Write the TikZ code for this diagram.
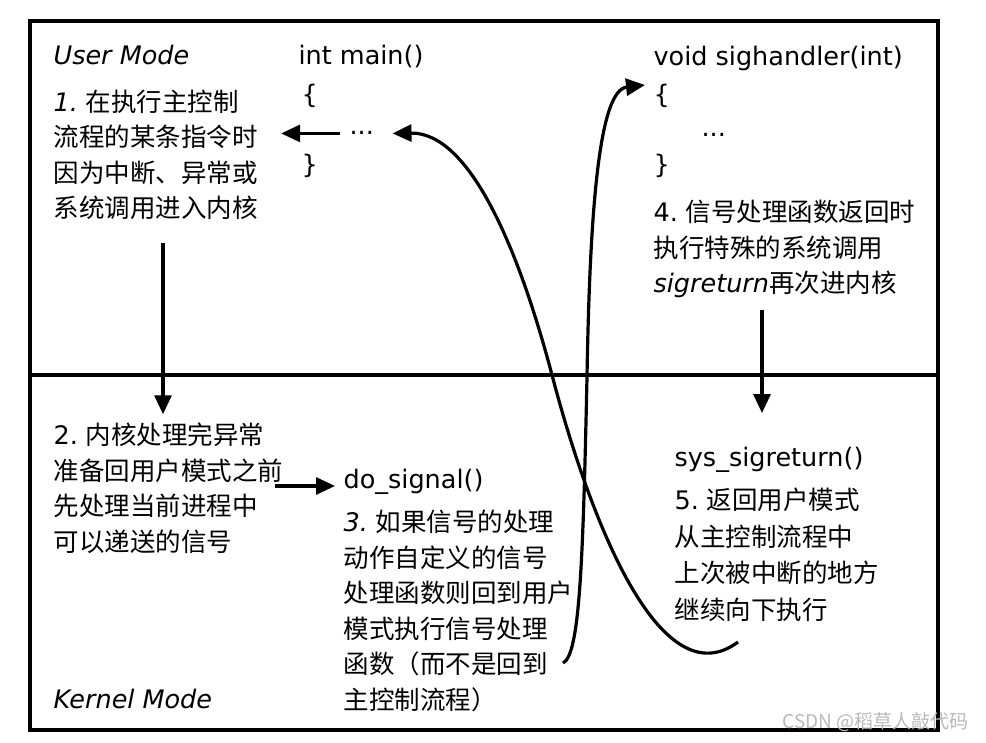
\documentclass[tikz,border=0pt]{standalone}
\usepackage{fontspec}
\setmainfont{DejaVu Sans}
\newfontfamily\cjk{Noto Sans CJK SC}
\usetikzlibrary{arrows.meta}
\begin{document}
\begin{tikzpicture}[x=1pt, y=-1pt, line width=3.2pt, >={Triangle[length=19pt,width=17pt]},
  code node/.style={anchor=base west,inner sep=0pt,font=\fontsize{25.5}{30}\selectfont},
  mode node/.style={code node,font=\fontsize{25.5}{30}\selectfont\itshape},
  step node/.style={anchor=base west,inner sep=0pt,align=left,font=\fontsize{25.5}{35.5}\selectfont\cjk}]
\useasboundingbox (0,0) rectangle (986,743);
\draw [line width=4pt] (30,21) rectangle (938,730);
\draw (30,375) -- (938,375);
\begin{scope}
% user mode
\node [mode node](um) at (52,65) {User Mode};
\node [code node](mhead) at (297,65) {int main()};
\node [code node](mlb) at (300,104) {\{};
\node [code node](mdots) at (348,135) {...};
\node [code node](mrb) at (300,174) {\}};
\node [step node](s1) at (52,218) {{\rmfamily\itshape 1.} 在执行主控制\\流程的某条指令时\\因为中断、异常或\\系统调用进入内核};
\node [code node](shead) at (652,66) {void sighandler(int)};
\node [code node](slb) at (652,104) {\{};
\node [code node](sdots) at (700,137) {...};
\node [code node](srb) at (652,174) {\}};
\node [step node](s4) at (652,293) {{\rmfamily 4.} 信号处理函数返回时\\执行特殊的系统调用\\{\rmfamily\itshape sigreturn}再次进内核};
% kernel mode
\node [step node](s2) at (52,551) {{\rmfamily 2.} 内核处理完异常\\准备回用户模式之前\\先处理当前进程中\\可以递送的信号};
\node [code node](sig) at (342,488) {do\_signal()};
\node [step node](s3) at (342,709) {{\rmfamily\itshape 3.} 如果信号的处理\\动作自定义的信号\\处理函数则回到用户\\模式执行信号处理\\函数（而不是回到\\主控制流程）};
\node [code node](ret) at (673,466) {sys\_sigreturn()};
\node [step node,font=\fontsize{25.5}{36.5}\selectfont\cjk](s5) at (673,619) {{\rmfamily 5.} 返回用户模式\\从主控制流程中\\上次被中断的地方\\继续向下执行};
\node [mode node](km) at (52,708) {Kernel Mode};
\node [anchor=east,inner sep=0pt,text=gray!55,font=\fontsize{19}{19}\selectfont\cjk](wm) at (970,722) {CSDN @稻草人敲代码};
\end{scope}
\coordinate (k1) at (163,243);
\coordinate (k2) at (275,486);
\coordinate (k3) at (762,310);
\coordinate (hA) at (738,642);
\coordinate (hB) at (563,663);
\draw [->, shorten <=8pt, shorten >=22pt] (mdots.west) -- (s1.east |- mdots.west);
\draw [->] (k1) -- ([yshift=7pt]k1 |- s2.north);
\draw [->, shorten >=7pt] (k2) -- (k2 -| sig.west);
\draw [->] (k3) -- ([yshift=32pt]k3 |- ret.north);
\draw [->] (hA) .. controls (660,700) and (590,520) .. (552,375) .. controls (519,250) and (470,132) .. ([xshift=17pt]mdots.east);
\draw [->] (hB) .. controls (580,655) and (583,560) .. (587,377) .. controls (590,200) and (600,90) .. ([xshift=-7pt,yshift=-2pt]slb.north west);
\end{tikzpicture}
\end{document}
